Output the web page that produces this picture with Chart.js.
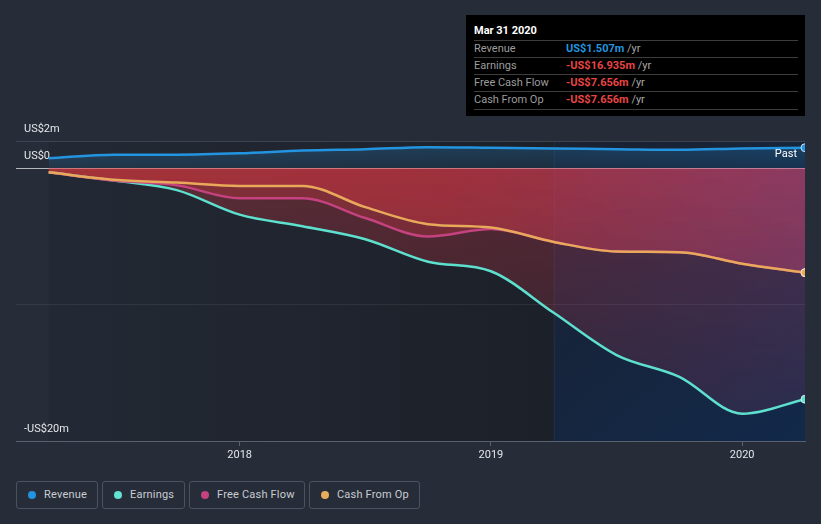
<!DOCTYPE html>
<html>
<head>
<meta charset="utf-8">
<script src="https://cdn.jsdelivr.net/npm/chart.js@4.4.0/dist/chart.umd.min.js"></script>
<style>
  html, body { margin: 0; padding: 0; background: #262c38; }
  body { width: 821px; height: 524px; position: relative; overflow: hidden; font-family: Roboto, "Noto Sans", sans-serif; }
  #chart { position: absolute; left: 0; top: 0; }
  .tip { position: absolute; left: 466px; top: 15px; width: 339px; height: 101px; background: #000; }
  .tip .title { position: absolute; left: 8px; top: 9px; font-size: 11px; font-weight: bold; color: #fff; }
  .tip .row { position: absolute; left: 8px; right: 7px; height: 17px; border-top: 1px solid #3d3d3d; font-size: 11px; line-height: 16px; }
  .tip .row.last { border-bottom: 1px solid #3d3d3d; }
  .tip .lab { position: absolute; left: 0; color: #9c9c9c; }
  .tip .val { position: absolute; left: 92px; font-weight: bold; }
  .tip .val span { font-weight: normal; color: #a8a8a8; }
  .lg { position: absolute; top: 481px; height: 28px; box-sizing: border-box; border: 1px solid #4b5260; border-radius: 3px;
        font-size: 11px; color: #c9ccd2; line-height: 26px; }
  .lg i { position: absolute; left: 11px; top: 9px; width: 8px; height: 8px; border-radius: 50%; }
  .lg b { position: absolute; left: 27px; font-weight: normal; letter-spacing: 0.2px; }
</style>
</head>
<body>
<canvas id="chart" width="821" height="470"></canvas>

<div class="tip">
  <div class="title">Mar 31 2020</div>
  <div class="row" style="top:25px"><div class="lab">Revenue</div><div class="val" style="color:#2394df">US$1.507m <span>/yr</span></div></div>
  <div class="row" style="top:42px"><div class="lab">Earnings</div><div class="val" style="color:#e84545">-US$16.935m <span>/yr</span></div></div>
  <div class="row" style="top:59px"><div class="lab">Free Cash Flow</div><div class="val" style="color:#e84545">-US$7.656m <span>/yr</span></div></div>
  <div class="row last" style="top:76px"><div class="lab">Cash From Op</div><div class="val" style="color:#e84545">-US$7.656m <span>/yr</span></div></div>
</div>

<div class="lg" style="left:16px;width:82px"><i style="background:#2394df"></i><b>Revenue</b></div>
<div class="lg" style="left:102px;width:83px"><i style="background:#63e2d2"></i><b>Earnings</b></div>
<div class="lg" style="left:189px;width:116px"><i style="background:#c4427f"></i><b>Free Cash Flow</b></div>
<div class="lg" style="left:309px;width:111px"><i style="background:#e8ab5c"></i><b>Cash From Op</b></div>

<script>
// quarterly trailing-twelve-month figures, US$ millions
const dates = [2017.24, 2017.5, 2017.75, 2018.0, 2018.25, 2018.5, 2018.75, 2019.0, 2019.25, 2019.5, 2019.75, 2020.0, 2020.25];
const revenue = [0.73, 1.0, 1.0, 1.1, 1.3, 1.4, 1.55, 1.5, 1.45, 1.4, 1.35, 1.45, 1.507];
const earnings = [-0.3, -0.9, -1.6, -3.4, -4.25, -5.2, -6.85, -7.55, -10.6, -13.7, -15.3, -18.0, -16.935];
const freeCashFlow = [-0.3, -0.9, -1.25, -2.2, -2.2, -3.65, -5.0, -4.45, -5.4, -6.1, -6.15, -7.0, -7.656];
const cashFromOp = [-0.3, -0.85, -1.05, -1.3, -1.3, -2.85, -4.1, -4.35, -5.4, -6.1, -6.15, -7.0, -7.656];

const yTicks = [-20, -10, 0, 2];
const xTicks = [2018, 2019, 2020];
const pastStart = 2019.25;

const pts = arr => arr.map((v, i) => ({ x: dates[i], y: v }));
const last = dates.length - 1;

function yLabel(v) {
  if (v === 0) return 'US$0';
  if (v === -10) return '';
  return (v < 0 ? '-' : '') + 'US$' + Math.abs(v) + 'm';
}

// red -> pink fill for the loss side, fading downwards
function negFill(ctx) {
  const chart = ctx.chart;
  const a = chart.chartArea;
  if (!a) return 'rgba(240,55,65,0.25)';
  if (chart.$negPat) return chart.$negPat;
  const off = document.createElement('canvas');
  off.width = chart.width;
  off.height = chart.height;
  const g = off.getContext('2d');
  const h = g.createLinearGradient(a.left, 0, a.right, 0);
  h.addColorStop(0, 'rgb(242,56,58)');
  h.addColorStop(0.55, 'rgb(238,58,72)');
  h.addColorStop(1, 'rgb(212,72,120)');
  g.fillStyle = h;
  g.fillRect(0, 0, off.width, off.height);
  g.globalCompositeOperation = 'destination-in';
  const y0 = chart.scales.y.getPixelForValue(0);
  const v = g.createLinearGradient(0, y0, 0, a.bottom);
  v.addColorStop(0, 'rgba(0,0,0,0.28)');
  v.addColorStop(1, 'rgba(0,0,0,0.11)');
  g.fillStyle = v;
  g.fillRect(0, 0, off.width, off.height);
  chart.$negPat = chart.ctx.createPattern(off, 'no-repeat');
  return chart.$negPat;
}

function revFill(ctx) {
  const chart = ctx.chart;
  const a = chart.chartArea;
  if (!a) return 'rgba(35,148,223,0.2)';
  const y0 = chart.scales.y.getPixelForValue(0);
  const g = chart.ctx.createLinearGradient(0, a.top, 0, y0);
  g.addColorStop(0, 'rgba(35,148,223,0.28)');
  g.addColorStop(1, 'rgba(35,148,223,0.12)');
  return g;
}

const plotBg = {
  id: 'plotBg',
  beforeDraw(chart) {
    const { ctx, chartArea: a, scales: { x } } = chart;
    const xs = x.getPixelForValue(dates[0]);
    const xd = x.getPixelForValue(pastStart);
    ctx.save();
    const gl = ctx.createLinearGradient(xs, 0, xd, 0);
    gl.addColorStop(0, '#232934');
    gl.addColorStop(1, '#1c2029');
    ctx.fillStyle = gl;
    ctx.fillRect(xs, a.top, xd - xs, a.bottom - a.top);
    const gr = ctx.createLinearGradient(xd, a.top, a.right, a.bottom);
    gr.addColorStop(0, '#1a2130');
    gr.addColorStop(1, '#12294a');
    ctx.fillStyle = gr;
    ctx.fillRect(xd, a.top, a.right - xd, a.bottom - a.top);
    ctx.strokeStyle = 'rgba(45,60,95,0.35)';
    ctx.lineWidth = 1;
    ctx.beginPath();
    ctx.moveTo(Math.round(xd) + 0.5, a.top);
    ctx.lineTo(Math.round(xd) + 0.5, a.bottom);
    ctx.stroke();
    ctx.restore();
  },
  afterDraw(chart) {
    const { ctx, chartArea: a, scales: { y } } = chart;
    ctx.save();
    ctx.fillStyle = '#ffffff';
    ctx.font = '11px Roboto';
    ctx.textAlign = 'right';
    ctx.textBaseline = 'middle';
    ctx.fillText('Past', a.right - 8, y.getPixelForValue(0) - 14);
    ctx.restore();
  }
};

function series(label, data, color, fill, order) {
  return {
    label,
    data: pts(data),
    borderColor: color,
    borderWidth: 2.5,
    backgroundColor: fill,
    fill: 'origin',
    cubicInterpolationMode: 'monotone',
    pointRadius: c => (c.dataIndex === last ? 4 : 0),
    pointBackgroundColor: color,
    pointBorderColor: 'rgba(255,255,255,0.75)',
    pointBorderWidth: 1,
    order
  };
}

new Chart(document.getElementById('chart'), {
  type: 'line',
  data: {
    datasets: [
      series('Revenue', revenue, '#2394df', revFill, 4),
      series('Earnings', earnings, '#5ee0cf', negFill, 3),
      series('Free Cash Flow', freeCashFlow, '#c4427f', negFill, 2),
      series('Cash From Op', cashFromOp, '#e8a95a', negFill, 1)
    ]
  },
  options: {
    responsive: false,
    animation: false,
    layout: { padding: { left: 16, right: 16, top: 141, bottom: 0 } },
    plugins: {
      legend: { display: false },
      tooltip: { enabled: false },
      filler: { drawTime: 'beforeDatasetsDraw' }
    },
    scales: {
      x: {
        type: 'linear',
        min: 2017.11,
        max: 2020.25,
        afterBuildTicks: s => { s.ticks = xTicks.map(v => ({ value: v })); },
        afterFit: s => { s.height = 29; },
        ticks: { color: '#e4e6ea', font: { family: 'Roboto', size: 11 }, padding: 3, callback: v => String(v) },
        grid: { drawOnChartArea: false, color: '#59606e', tickLength: 5 },
        border: { color: '#59606e' }
      },
      y: {
        min: -20,
        max: 2,
        afterBuildTicks: s => { s.ticks = yTicks.map(v => ({ value: v })); },
        afterFit: s => { s.width = 0; },
        ticks: {
          mirror: true,
          padding: 8,
          labelOffset: -12,
          color: '#e4e6ea',
          font: { family: 'Roboto', size: 11 },
          callback: yLabel
        },
        grid: {
          drawTicks: false,
          color: c => {
            const v = c.tick && c.tick.value;
            if (v === 0) return 'rgba(230,230,230,0.75)';
            if (v === -10) return 'rgba(255,255,255,0.07)';
            if (v === -20) return '#59606e';
            return '#3d4350';
          }
        },
        border: { display: false }
      }
    }
  },
  plugins: [plotBg]
});
</script>
</body>
</html>
